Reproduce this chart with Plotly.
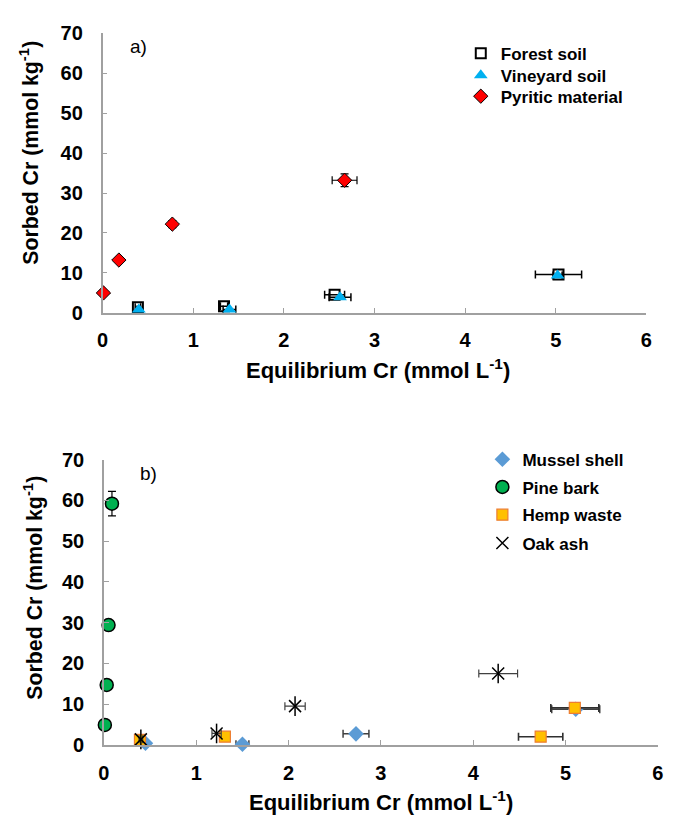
import plotly.graph_objects as go

# ---------- data: panel a ----------
forest_x = [0.39, 1.34, 2.56, 5.03]
forest_y = [1.4, 1.6, 4.5, 9.6]
forest_xerr = [0.03, 0.04, 0.11, 0.255]

vine_x = [0.40, 1.40, 2.62, 5.02]
vine_y = [0.8, 0.8, 3.9, 9.3]
vine_xerr = [0.02, 0.07, 0.12, 0.05]

pyr_x = [0.01, 0.18, 0.77, 2.67]
pyr_y = [4.95, 13.2, 22.2, 33.2]
pyr_xerr = [0.01, 0.02, 0.03, 0.137]
pyr_yerr = [0.3, 0.5, 0.9, 1.6]

# ---------- data: panel b ----------
mus_x = [0.45, 1.50, 2.73, 5.11]
mus_y = [0.4, 0.15, 2.7, 8.75]
mus_xerr = [0.02, 0.07, 0.14, 0.26]

pine_x = [0.01, 0.03, 0.05, 0.087]
pine_y = [4.9, 14.7, 29.4, 59.2]
pine_yerr = [0.3, 0.6, 0.8, 3.0]

hemp_x = [0.39, 1.31, 4.73, 5.10]
hemp_y = [1.2, 2.0, 2.0, 9.07]
hemp_xerr = [0.02, 0.03, 0.24, 0.26]

oak_x = [0.40, 1.22, 2.07, 4.27]
oak_y = [1.35, 2.8, 9.5, 17.5]
oak_xerr = [0.02, 0.05, 0.11, 0.21]

x_ticks = [0, 1, 2, 3, 4, 5, 6]
y_ticks = [0, 10, 20, 30, 40, 50, 60, 70]

W, H = 676, 823
BOLD = "Liberation Sans, Arial, sans-serif"


def ex(v, color="black", th=1.5):
    return dict(type="data", array=v, visible=True, color=color, thickness=th, width=4)


def px_x(p):
    return p / W


def px_y(p):
    return 1 - p / H


fig = go.Figure()

# panel a traces
fig.add_trace(go.Scatter(
    x=forest_x, y=forest_y, mode="markers", name="Forest soil",
    error_x=ex(forest_xerr),
    marker=dict(symbol="square-open", size=10, color="black", line=dict(width=2, color="black")),
    xaxis="x", yaxis="y", legend="legend", cliponaxis=False))
fig.add_trace(go.Scatter(
    x=vine_x, y=vine_y, mode="markers", name="Vineyard soil",
    error_x=ex(vine_xerr),
    marker=dict(symbol="triangle-up", size=12, color="#00B0F0", line=dict(width=0)),
    xaxis="x", yaxis="y", legend="legend2", cliponaxis=False))
fig.add_trace(go.Scatter(
    x=pyr_x, y=pyr_y, mode="markers", name="Pyritic material",
    error_x=ex(pyr_xerr, th=1.2), error_y=ex(pyr_yerr, th=1.2),
    marker=dict(symbol="diamond", size=11, color="#FF0000", line=dict(width=1, color="black")),
    xaxis="x", yaxis="y", legend="legend3", cliponaxis=False))

# panel b traces
fig.add_trace(go.Scatter(
    x=mus_x, y=mus_y, mode="markers", name="Mussel shell",
    error_x=ex(mus_xerr, color="#404040", th=1.5),
    marker=dict(symbol="diamond", size=12, color="#5B9BD5", line=dict(width=0)),
    xaxis="x2", yaxis="y2", legend="legend4", cliponaxis=False))
fig.add_trace(go.Scatter(
    x=pine_x, y=pine_y, mode="markers", name="Pine bark",
    error_y=ex(pine_yerr, th=1.2),
    marker=dict(symbol="circle", size=13, color="#00B050", line=dict(width=1.5, color="black")),
    xaxis="x2", yaxis="y2", legend="legend5", cliponaxis=False))
fig.add_trace(go.Scatter(
    x=hemp_x, y=hemp_y, mode="markers", name="Hemp waste",
    error_x=ex(hemp_xerr, color="#303030", th=1.6),
    marker=dict(symbol="square", size=11, color="#FFC000", line=dict(width=1.2, color="#ED7D31")),
    xaxis="x2", yaxis="y2", legend="legend6", cliponaxis=False))
fig.add_trace(go.Scatter(
    x=oak_x, y=oak_y, mode="markers", name="Oak ash",
    error_x=ex(oak_xerr, color="#404040", th=1.2),
    marker=dict(symbol="x-thin-open", size=12, color="black", line=dict(width=1.5, color="black")),
    xaxis="x2", yaxis="y2", legend="legend7", cliponaxis=False))
# vertical stroke of the Excel-style star marker
fig.add_trace(go.Scatter(
    x=oak_x, y=oak_y, mode="markers", name="Oak ash", showlegend=False,
    marker=dict(symbol="line-ns-open", size=14, color="black", line=dict(width=1.5, color="black")),
    xaxis="x2", yaxis="y2", cliponaxis=False, hoverinfo="skip"))

axis_common = dict(
    showline=True, linecolor="#A0A0A0", linewidth=1.5,
    ticks="inside", ticklen=5, tickwidth=1.2, tickcolor="#A0A0A0",
    showgrid=False, zeroline=False,
    tickfont=dict(family=BOLD, size=20, color="black", weight="bold"),
)

legend_font = dict(family=BOLD, size=17, color="black", weight="bold")


def leg(xp, yp):
    return dict(x=px_x(xp), y=px_y(yp), xanchor="left", yanchor="middle",
                bgcolor="rgba(0,0,0,0)", font=legend_font)


fig.update_layout(
    width=W, height=H,
    margin=dict(l=0, r=0, t=0, b=0),
    paper_bgcolor="white", plot_bgcolor="white",
    xaxis=dict(domain=[px_x(98.3), px_x(652)], range=[0, 6], tickvals=x_ticks,
               anchor="y", ticklabelstandoff=9, **axis_common),
    yaxis=dict(domain=[px_y(310), px_y(23)], range=[0, 70], tickvals=y_ticks,
               anchor="x", ticklabelstandoff=14, **axis_common),
    xaxis2=dict(domain=[px_x(99.7), px_x(663.7)], range=[0, 6], tickvals=x_ticks,
                anchor="y2", ticklabelstandoff=9, **axis_common),
    yaxis2=dict(domain=[px_y(754), px_y(461)], range=[0, 70], tickvals=y_ticks,
                anchor="x2", ticklabelstandoff=14, **axis_common),
    legend=leg(463, 44),
    legend2=leg(463, 66.5),
    legend3=leg(463, 88),
    legend4=leg(485, 461),
    legend5=leg(485, 489.5),
    legend6=leg(485, 518),
    legend7=leg(485, 547),
    showlegend=True,
)

title_font = dict(family=BOLD, size=22, color="black", weight="bold")
ytitle_font = dict(family=BOLD, size=21.3, color="black", weight="bold")
ann = [
    dict(text="Sorbed Cr (mmol kg<sup>-1</sup>)", x=px_x(24), y=px_y(146), textangle=-90, font=ytitle_font),
    dict(text="Equilibrium Cr (mmol L<sup>-1</sup>)", x=px_x(379), y=px_y(368), font=title_font),
    dict(text="Sorbed Cr (mmol kg<sup>-1</sup>)", x=px_x(28), y=px_y(593), textangle=-90, font=ytitle_font),
    dict(text="Equilibrium Cr (mmol L<sup>-1</sup>)", x=px_x(382), y=px_y(812), font=title_font),
]
for a in ann:
    fig.add_annotation(xref="paper", yref="paper", showarrow=False,
                       xanchor="center", yanchor="middle", **a)

fig.add_annotation(text="a)", xref="paper", yref="paper", x=px_x(135), y=px_y(36),
                   showarrow=False, xanchor="center", yanchor="middle",
                   font=dict(family=BOLD, size=19, color="black"))
fig.add_annotation(text="b)", xref="paper", yref="paper", x=px_x(145), y=px_y(475),
                   showarrow=False, xanchor="center", yanchor="middle",
                   font=dict(family=BOLD, size=19, color="black"))

fig.write_html(
    "out.html",
    config={"displayModeBar": False},
    post_script="document.body.style.margin='0';document.body.style.overflow='hidden';",
)
